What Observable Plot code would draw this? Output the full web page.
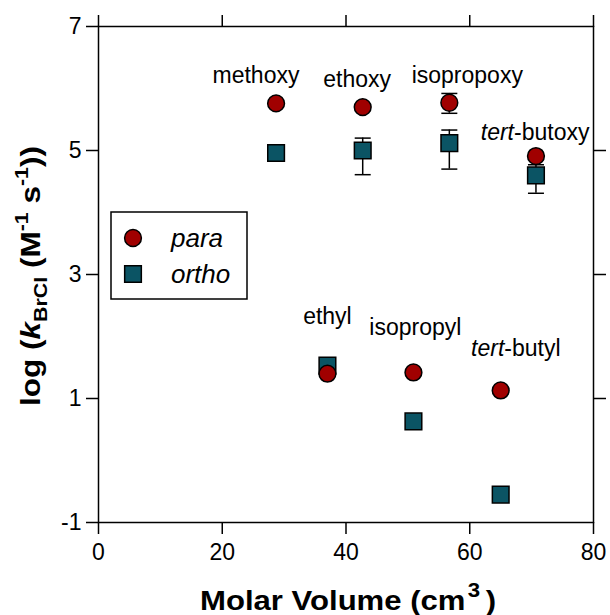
<!DOCTYPE html>
<html><head><meta charset="utf-8">
<script src="https://cdn.jsdelivr.net/npm/d3@7"></script>
<script src="https://cdn.jsdelivr.net/npm/@observablehq/plot@0.6"></script>
<style>
body{margin:0;background:#fff}
#chart{position:relative;width:610px;height:615px}
</style>
</head><body><div id="chart"></div>
<script>
// ---- data ----
const substituents = ["methoxy","ethoxy","isopropoxy","tert-butoxy","ethyl","isopropyl","tert-butyl"];
const molarVolume = [28.7, 42.7, 56.7, 70.7, 37.0, 50.9, 65.0];
const logKPara    = [5.76, 5.70, 5.77, 4.91, 1.40, 1.42, 1.13];
const logKOrtho   = [4.96, 5.00, 5.12, 4.60, 1.53, 0.63, -0.55];
const paraErrLow   = [null, null, 5.60, null, null, null, null];
const paraErrHigh  = [null, null, 5.92, null, null, null, null];
const orthoErrLow  = [null, 4.61, 4.70, 4.31, null, null, null];
const orthoErrHigh = [null, 5.20, 5.33, 4.77, null, null, null];
const labelX = [25.45, 41.8, 59.6, 70.56, 37.0, 51.2, 67.45];
const labelY = [6.21, 6.145, 6.2, 5.285, 2.32, 2.145, 1.81];
const xTicks = [0, 20, 40, 60, 80];
const yTicksLeft = [-1, 1, 3, 5, 7];
const yTicksRight = [1, 3, 5];
const seriesNames = ["para", "ortho"];
const colorPara = "#a00000";
const colorOrtho = "#0b5464";

const rows = substituents.map((s, i) => ({name: s, v: molarVolume[i], para: logKPara[i], ortho: logKOrtho[i], lx: labelX[i], ly: labelY[i]}));
const errRows = [];
substituents.forEach((s, i) => {
  if (paraErrLow[i] != null) errRows.push({v: molarVolume[i], lo: paraErrLow[i], hi: paraErrHigh[i]});
  if (orthoErrLow[i] != null) errRows.push({v: molarVolume[i], lo: orthoErrLow[i], hi: orthoErrHigh[i]});
});
const capRows = errRows.flatMap(d => [{v: d.v, y: d.lo}, {v: d.v, y: d.hi}]);

const hBar = {draw(ctx, size) { const r = Math.sqrt(size / Math.PI); ctx.moveTo(-r, 0); ctx.lineTo(r, 0); }};

const FONT = "'Liberation Sans', Arial, Helvetica, sans-serif";

const svg = Plot.plot({
  width: 610, height: 615,
  marginLeft: 98, marginRight: 17, marginTop: 26, marginBottom: 93,
  x: {domain: [0, 80]},
  y: {domain: [-1, 7]},
  style: {fontFamily: FONT, fontSize: "23px", color: "black", background: "white"},
  marks: [
    Plot.axisX({anchor: "bottom", ticks: xTicks, tickSize: 12, tickPadding: 9, tickFormat: d => String(d), label: null, fontSize: 23, strokeWidth: 1.5}),
    Plot.axisX({anchor: "top", ticks: xTicks, tickSize: 12, tickFormat: () => "", label: null, strokeWidth: 1.5}),
    Plot.axisY({anchor: "left", ticks: yTicksLeft, tickSize: 12, tickPadding: 5, tickFormat: d => String(d), label: null, fontSize: 23, strokeWidth: 1.5}),
    Plot.axisY({anchor: "right", ticks: yTicksRight, tickSize: 12, tickFormat: () => "", label: null, strokeWidth: 1.5}),
    Plot.frame({stroke: "black", strokeWidth: 1.5}),
    Plot.ruleX(errRows, {x: "v", y1: "lo", y2: "hi", stroke: "black", strokeWidth: 1.5}),
    Plot.dot(capRows, {x: "v", y: "y", symbol: hBar, r: 8, stroke: "black", fill: "none", strokeWidth: 1.5}),
    Plot.dot(rows, {x: "v", y: "ortho", symbol: "square", r: 9.4, fill: colorOrtho, stroke: "black", strokeWidth: 1.5}),
    Plot.dot(rows, {x: "v", y: "para", symbol: "circle", r: 8.4, fill: colorPara, stroke: "black", strokeWidth: 1.5}),
    Plot.text(rows, {x: "lx", y: "ly", text: "name", fontSize: 23, fill: "black", textAnchor: "middle"})
  ]
});

// italicise "tert"
svg.querySelectorAll("text").forEach(t => {
  const s = t.textContent;
  if (s.startsWith("tert-") && t.children.length === 0) {
    t.textContent = "";
    const a = document.createElementNS("http://www.w3.org/2000/svg", "tspan");
    a.setAttribute("font-style", "italic"); a.textContent = "tert";
    t.appendChild(a);
    t.appendChild(document.createTextNode(s.slice(4)));
  }
});

const root = d3.select(svg);
// x title
const xt = root.append("text").attr("x", 348).attr("y", 610).attr("text-anchor", "middle")
  .attr("textLength", 296).attr("lengthAdjust", "spacingAndGlyphs")
  .attr("font-family", FONT).attr("font-size", 28).attr("font-weight", "bold").attr("fill", "black");
xt.append("tspan").text("Molar Volume (cm");
xt.append("tspan").attr("font-size", 20).attr("dy", -13).attr("dx", 2).text("3");
xt.append("tspan").attr("dy", 13).attr("dx", 5).text(")");

// y title
const yt = root.append("text").attr("transform", "translate(40,276) rotate(-90)").attr("text-anchor", "middle")
  .attr("textLength", 260).attr("lengthAdjust", "spacingAndGlyphs")
  .attr("font-family", FONT).attr("font-size", 28).attr("font-weight", "bold").attr("fill", "black");
yt.append("tspan").text("log (");
yt.append("tspan").attr("font-style", "italic").text("k");
yt.append("tspan").attr("font-size", 19).attr("dy", 7).text("BrCl");
yt.append("tspan").attr("dy", -7).text(" (M");
yt.append("tspan").attr("font-size", 19).attr("dy", -12).text("-1");
yt.append("tspan").attr("dy", 12).text(" s");
yt.append("tspan").attr("font-size", 19).attr("dy", -12).text("-1");
yt.append("tspan").attr("dy", 12).text("))");

// legend
const lg = root.append("g").attr("transform", "translate(111,212)");
lg.append("rect").attr("width", 136).attr("height", 87).attr("fill", "white").attr("stroke", "black").attr("stroke-width", 1.5);
const sym = [d3.symbolCircle, d3.symbolSquare];
const rr = [8.4, 9.4];
const fills = [colorPara, colorOrtho];
const ys = [26, 62];
seriesNames.forEach((n, i) => {
  lg.append("path").attr("transform", `translate(22,${ys[i]})`)
    .attr("d", d3.symbol(sym[i], rr[i] * rr[i] * Math.PI)())
    .attr("fill", fills[i]).attr("stroke", "black").attr("stroke-width", 1.5);
  lg.append("text").attr("x", 60).attr("y", ys[i] + 9).attr("text-anchor", "start").attr("font-family", FONT)
    .attr("font-size", 26).attr("font-style", "italic").attr("fill", "black").text(n);
});

document.getElementById("chart").appendChild(svg);
</script>
</body></html>
